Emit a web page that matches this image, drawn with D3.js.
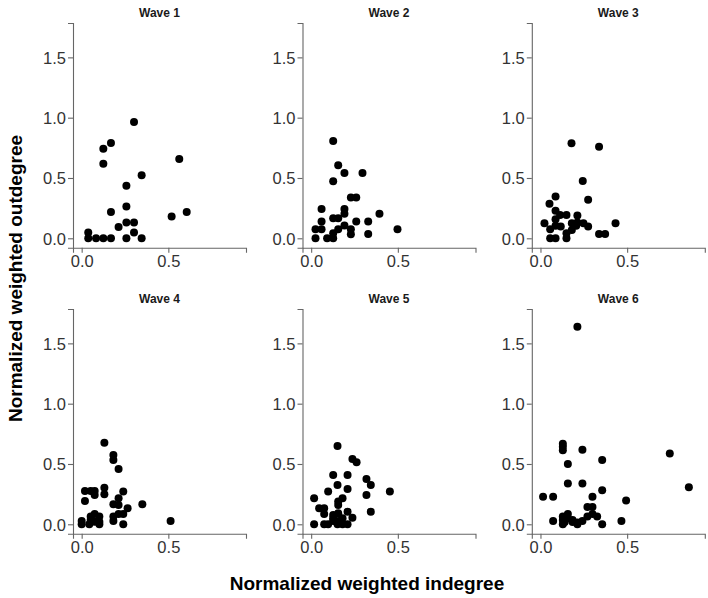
<!DOCTYPE html>
<html>
<head>
<meta charset="utf-8">
<script src="https://cdn.jsdelivr.net/npm/d3@7"></script>
<style>
  html, body { margin: 0; padding: 0; background: #fff; }
  svg { display: block; }
</style>
</head>
<body>
<svg id="chart" width="708" height="598"></svg>
<script>
// ---- data ----
const waveNames = ["Wave 1", "Wave 2", "Wave 3", "Wave 4", "Wave 5", "Wave 6"];

const wave1In  = [0.302,0.169,0.125,0.125,0.563,0.346,0.258,0.258,0.169,0.606,0.519,0.213,0.258,0.302,0.302,0.038,0.038,0.083,0.125,0.169,0.258,0.346];
const wave1Out = [0.964,0.790,0.742,0.617,0.658,0.522,0.436,0.264,0.219,0.219,0.181,0.094,0.131,0.131,0.047,0.047,0.000,0.000,0.000,0.000,0.000,0.000];

const wave2In  = [0.127,0.156,0.192,0.296,0.127,0.229,0.260,0.060,0.192,0.192,0.394,0.060,0.127,0.156,0.260,0.329,0.192,0.025,0.060,0.156,0.229,0.498,0.127,0.229,0.329,0.025,0.092,0.127];
const wave2Out = [0.806,0.606,0.542,0.542,0.472,0.339,0.339,0.242,0.242,0.203,0.203,0.139,0.167,0.167,0.139,0.139,0.106,0.075,0.075,0.075,0.075,0.075,0.042,0.033,0.036,0.000,0.000,0.000];

const wave3In  = [0.179,0.338,0.244,0.087,0.275,0.052,0.087,0.113,0.150,0.213,0.087,0.023,0.181,0.213,0.248,0.433,0.056,0.087,0.117,0.206,0.275,0.181,0.150,0.338,0.373,0.056,0.087,0.150];
const wave3Out = [0.789,0.758,0.475,0.347,0.319,0.286,0.228,0.194,0.194,0.189,0.158,0.125,0.125,0.131,0.125,0.125,0.075,0.103,0.097,0.103,0.097,0.069,0.042,0.036,0.036,0.000,0.000,0.000];

const wave4In  = [0.131,0.183,0.183,0.213,0.131,0.131,0.019,0.052,0.075,0.075,0.240,0.213,0.019,0.183,0.350,0.213,0.265,0.052,0.075,0.102,0.183,0.213,0.240,0.183,0.000,0.000,0.044,0.075,0.102,0.052,0.240,0.513,0.102];
const wave4Out = [0.677,0.575,0.533,0.459,0.304,0.249,0.276,0.276,0.276,0.243,0.271,0.215,0.193,0.166,0.166,0.160,0.133,0.064,0.086,0.064,0.064,0.086,0.086,0.028,0.028,0.000,0.000,0.022,0.022,0.036,0.000,0.028,0.000];

const wave5In  = [0.152,0.238,0.262,0.127,0.210,0.319,0.344,0.152,0.210,0.098,0.454,0.319,0.017,0.181,0.156,0.046,0.075,0.156,0.344,0.210,0.075,0.127,0.156,0.127,0.181,0.238,0.017,0.075,0.098,0.152,0.181,0.210,0.156,0.127];
const wave5Out = [0.649,0.541,0.514,0.409,0.409,0.376,0.326,0.326,0.293,0.271,0.271,0.243,0.215,0.215,0.188,0.133,0.133,0.160,0.105,0.105,0.086,0.077,0.091,0.050,0.050,0.055,0.000,0.000,0.000,0.000,0.000,0.000,0.028,0.028];

const wave6In  = [0.213,0.129,0.129,0.129,0.242,0.746,0.356,0.158,0.158,0.242,0.856,0.356,0.015,0.073,0.300,0.494,0.271,0.300,0.073,0.129,0.158,0.185,0.213,0.242,0.271,0.300,0.327,0.129,0.213,0.356,0.467,0.129,0.158,0.140,0.185];
const wave6Out = [1.638,0.667,0.642,0.614,0.617,0.586,0.533,0.500,0.339,0.339,0.308,0.283,0.228,0.228,0.228,0.197,0.144,0.144,0.028,0.064,0.086,0.036,0.014,0.028,0.064,0.086,0.064,0.000,0.000,0.000,0.028,0.036,0.050,0.020,0.020];

const xTicks = [0, 0.5];
const yTicks = [0, 0.5, 1.0, 1.5];
const xTitle = "Normalized weighted indegree";
const yTitle = "Normalized weighted outdegree";

const waveIn  = [wave1In, wave2In, wave3In, wave4In, wave5In, wave6In];
const waveOut = [wave1Out, wave2Out, wave3Out, wave4Out, wave5Out, wave6Out];

// ---- layout ----
const svg = d3.select("#chart");
const panelW = 173, panelH = 224.7;
const colX = [73, 302.5, 531.8];
const rowY = [23, 309];

const x = d3.scaleLinear().domain([-0.05, 0.948]).range([0, panelW]);
const y = d3.scaleLinear().domain([-0.078, 1.785]).range([panelH, 0]);
const fmt = d3.format(".1f");

waveNames.forEach((name, i) => {
  const col = i % 3, row = Math.floor(i / 3);
  const g = svg.append("g").attr("transform", `translate(${colX[col]},${rowY[row]})`);

  // title
  g.append("text")
    .attr("x", panelW / 2).attr("y", -5.8)
    .attr("text-anchor", "middle")
    .attr("font-family", "Liberation Sans, Arial, sans-serif")
    .attr("font-weight", "bold").attr("font-size", 12)
    .attr("fill", "#1a1a1a")
    .text(name);

  // axes
  const xa = g.append("g").attr("transform", `translate(0,${panelH})`)
    .call(d3.axisBottom(x).tickValues(xTicks).tickFormat(fmt).tickSize(5).tickPadding(3));
  const ya = g.append("g")
    .call(d3.axisLeft(y).tickValues(yTicks).tickFormat(fmt).tickSize(5).tickPadding(2));
  [xa, ya].forEach(a => {
    a.select(".domain").attr("stroke", "#666").attr("stroke-width", 1.1);
    a.selectAll(".tick line").attr("stroke", "#666").attr("stroke-width", 1.1);
    a.selectAll(".tick text")
      .attr("font-family", "Liberation Sans, Arial, sans-serif")
      .attr("font-size", 16.5).attr("fill", "#333");
  });
  ya.selectAll(".tick text").attr("dy", "0.36em");

  // points
  const pts = waveIn[i].map((v, k) => [v, waveOut[i][k]]);
  g.append("g").selectAll("circle").data(pts).join("circle")
    .attr("cx", d => x(d[0])).attr("cy", d => y(d[1]))
    .attr("r", 4).attr("fill", "#000");
});

// axis titles
svg.append("text")
  .attr("x", 367).attr("y", 590)
  .attr("text-anchor", "middle")
  .attr("font-family", "Liberation Sans, Arial, sans-serif")
  .attr("font-weight", "bold").attr("font-size", 19)
  .attr("fill", "#000")
  .text(xTitle);

svg.append("text")
  .attr("transform", "translate(22,278.5) rotate(-90)")
  .attr("text-anchor", "middle")
  .attr("font-family", "Liberation Sans, Arial, sans-serif")
  .attr("font-weight", "bold").attr("font-size", 19)
  .attr("fill", "#000")
  .text(yTitle);
</script>
</body>
</html>
